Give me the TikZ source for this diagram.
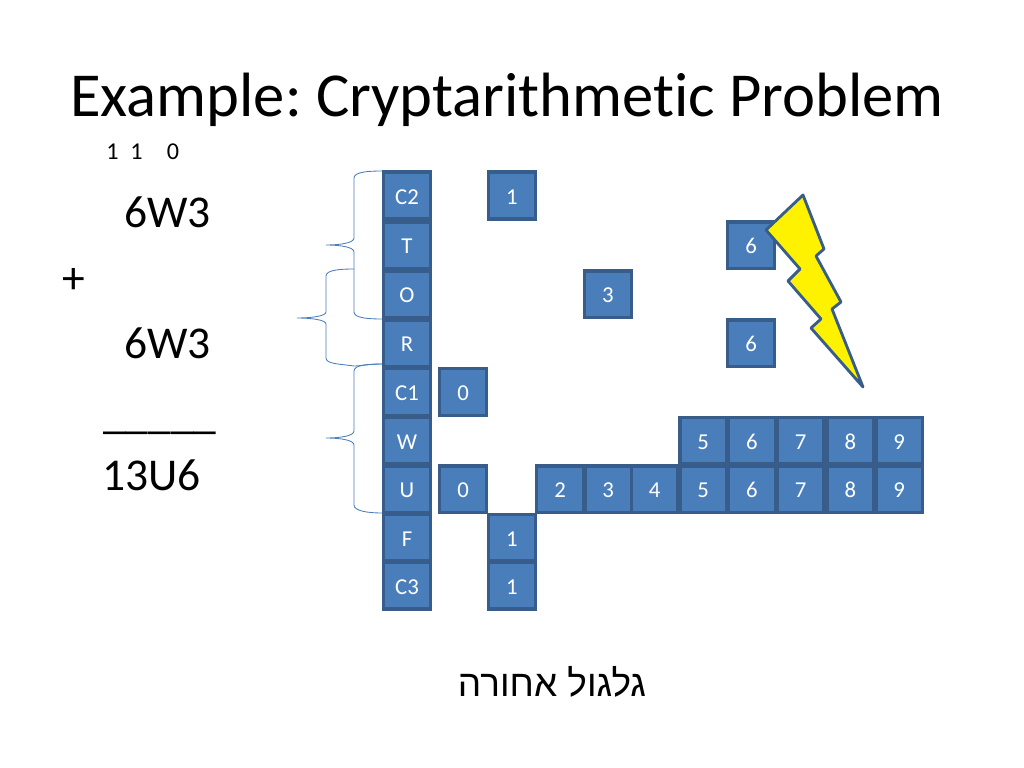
\documentclass[tikz,border=0pt]{standalone}
\usepackage{fontspec}
\setmainfont[Ligatures=NoCommon]{Carlito}
\newfontfamily\hebfont[Script=Hebrew]{Liberation Sans}
\TeXXeTstate=1
\frenchspacing
\usetikzlibrary{positioning}
\definecolor{boxfill}{HTML}{4A7EBB}
\definecolor{boxline}{HTML}{385D8A}
\definecolor{braceline}{HTML}{4A7EBB}

\tikzset{
  cell/.style={draw=boxline,fill=boxfill,line width=2.4pt,
    minimum size=32.8pt,inner sep=0pt,text=white,text height=12pt,text depth=0pt,
    font=\fontsize{16}{18}\selectfont},
  curly/.style={draw=braceline,line width=0.6pt},
  plain/.style={anchor=base west,inner sep=0pt,text=black},
  sums/.style={plain,font=\fontsize{32}{36}\selectfont},
}

\begin{document}
\begin{tikzpicture}[x=0.703125pt,y=-0.703125pt,node distance=34.5pt]
  \useasboundingbox (0,0) rectangle (1024,768);

  \node[plain,font=\fontsize{44}{50}\selectfont] (title) at (70,117) {Example: Cryptarithmetic Problem};
  \node[plain,font=\fontsize{17}{20}\selectfont] (carry) at (106,160) {1\hspace{8.4pt}1\hspace{17pt}0};
  \node[sums] (top) at (124,228) {6W3};
  \node[sums] (plus) at (62,294) {+};
  \node[sums] (bottom) at (124,358) {6W3};
  \node[sums] (rule) at (103,428) {\_\_\_\_\_};
  \node[sums] (sum) at (102,490) {13U6};
  \node[anchor=base,inner sep=0pt,font=\fontsize{26}{30}\selectfont\hebfont] (caption) at (552,696)
    {\beginR גלגול אחורה\endR};

  % letters
  \node[cell] (C2) at (407,195.5) {C2};
  \node[cell] (T)  [below of=C2,node distance=35pt] {T};
  \node[cell] (O)  [below of=T]  {O};
  \node[cell] (R)  [below of=O]  {R};
  \node[cell] (C1) [below of=R,node distance=34.2pt]  {C1};
  \node[cell] (W)  [below of=C1,node distance=34.2pt] {W};
  \node[cell] (U)  [below of=W,node distance=34.2pt]  {U};
  \node[cell] (F)  [below of=U,node distance=34pt]  {F};
  \node[cell] (C3) [below of=F,node distance=33.8pt] {C3};

  % domains
  \node[cell] (c2one)  [right of=C2,node distance=73.8pt]  {1};
  \node[cell] (tsix)   [right of=T,node distance=241.9pt]  {6};
  \node[cell] (othree) [right of=O,node distance=141.3pt]  {3};
  \node[cell] (rsix)   [right of=R,node distance=241.9pt]  {6};
  \node[cell] (c1zero) [right of=C1,node distance=39.4pt]  {0};
  \node[cell] (uzero)  [right of=U,node distance=39.4pt]   {0};
  \node[cell] (utwo)   [right of=uzero,node distance=68.2pt] {2};
  \node[cell] (uthree) [right of=utwo,node distance=33.9pt]   {3};
  \node[cell] (ufour)  [right of=uthree,node distance=32.6pt] {4};
  \node[cell] (ufive)  [right of=ufour,node distance=34.2pt]  {5};
  \node[cell] (usix)   [right of=ufive,node distance=34.2pt]  {6};
  \node[cell] (useven) [right of=usix,node distance=34.2pt]   {7};
  \node[cell] (ueight) [right of=useven,node distance=35pt] {8};
  \node[cell] (unine)  [right of=ueight,node distance=34.4pt] {9};
  \node[cell] (wfive)  [above of=ufive,node distance=34.2pt]  {5};
  \node[cell] (wsix)   [above of=usix,node distance=34.2pt]   {6};
  \node[cell] (wseven) [above of=useven,node distance=34.2pt] {7};
  \node[cell] (weight) [above of=ueight,node distance=34.2pt] {8};
  \node[cell] (wnine)  [above of=unine,node distance=34.2pt]  {9};
  \node[cell] (fone)   [right of=F,node distance=73.8pt] {1};
  \node[cell] (c3one)  [below of=fone,node distance=33.8pt]   {1};

  \draw[curly] (382,171) .. controls (368,171) and (354,172) .. (354,178) -- (354,238)
    .. controls (354,243) and (340,245) .. (326,245) .. controls (340,245) and (354,247) .. (354,252)
    -- (354,312) .. controls (354,318) and (368,319) .. (382,319);
  \draw[curly] (354,269) .. controls (340,269) and (326,270) .. (326,276) -- (326,312)
    .. controls (326,316) and (312,318) .. (297,318) .. controls (312,318) and (326,320) .. (326,324)
    -- (326,358) .. controls (326,364) and (340,364) .. (354,366) .. controls (360,366) and (370,364) .. (382,364);
  \draw[curly] (382,364) .. controls (368,364) and (354,365) .. (354,371) -- (354,431)
    .. controls (354,436) and (340,438) .. (326,438) .. controls (340,438) and (354,440) .. (354,445)
    -- (354,505) .. controls (354,511) and (368,513) .. (382,513);

  \draw[boxline,fill=yellow,line width=2pt,line join=round] (803,195) -- (824,249) -- (816,256) -- (841,302)
    -- (832,309) -- (863,387) -- (811,328) -- (821,319) -- (788,281) -- (800,269) -- (766,230) -- cycle;
\end{tikzpicture}
\end{document}
